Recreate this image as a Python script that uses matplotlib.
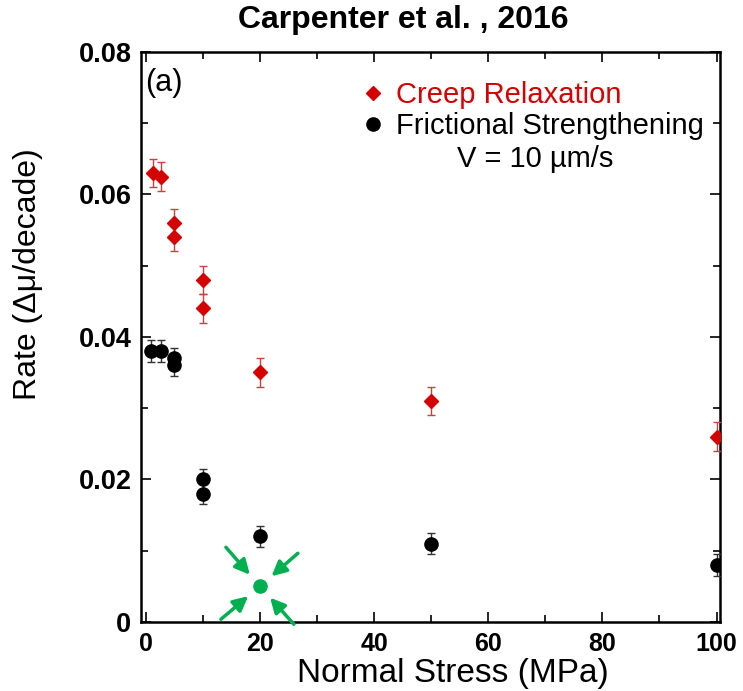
import matplotlib
matplotlib.use("Agg")
import matplotlib.pyplot as plt
from matplotlib.ticker import MultipleLocator

plt.rcParams['font.family'] = ['Liberation Sans', 'DejaVu Sans']

# creep relaxation rates
creep_stress = [1.2, 2.6, 5, 5, 10, 10, 20, 50, 100]
creep_rate = [0.063, 0.0625, 0.056, 0.054, 0.048, 0.044, 0.035, 0.031, 0.026]
creep_err = [0.002, 0.002, 0.002, 0.002, 0.002, 0.002, 0.002, 0.002, 0.002]

# frictional strengthening rates, V = 10 um/s
fs_stress = [1.0, 2.6, 5, 5, 10, 10, 20, 50, 100]
fs_rate = [0.038, 0.038, 0.037, 0.036, 0.020, 0.018, 0.012, 0.011, 0.008]
fs_err = [0.0015, 0.0015, 0.0015, 0.0015, 0.0015, 0.0015, 0.0015, 0.0015, 0.0015]

# highlighted point
hl_stress = 20
hl_rate = 0.005

red = '#d40000'
green = '#00b050'

fig = plt.figure(figsize=(7.43, 6.91), dpi=100)
ax = fig.add_axes([0.19, 0.10, 0.779, 0.825])

eb_fs = ax.errorbar(fs_stress, fs_rate, yerr=fs_err, fmt='o', color='black', ms=9.5,
                    ecolor='#333333', elinewidth=1, capsize=3, capthick=1, zorder=3)
eb_cr = ax.errorbar(creep_stress, creep_rate, yerr=creep_err, fmt='D', color=red, ms=7.5,
                    ecolor='#c84040', elinewidth=1, capsize=3, capthick=1, zorder=3)

ax.plot(hl_stress, hl_rate, 'o', color=green, ms=9.5, zorder=4)
# four arrows pointing at the highlighted point
for dx, dy in [(-34, 39), (38, 33), (-39, -33), (34, -38)]:
    ax.annotate('', xy=(hl_stress, hl_rate), xytext=(dx, dy), textcoords='offset pixels',
                arrowprops=dict(arrowstyle='-|>', color=green, lw=2.5, mutation_scale=22,
                                shrinkA=0, shrinkB=11))

ax.set_xlim(-0.8, 100.6)
ax.set_ylim(0, 0.08)
ax.xaxis.set_major_locator(MultipleLocator(20))
ax.xaxis.set_minor_locator(MultipleLocator(10))
ax.yaxis.set_major_locator(MultipleLocator(0.02))
ax.yaxis.set_minor_locator(MultipleLocator(0.01))
ax.set_yticks([0, 0.02, 0.04, 0.06, 0.08])
ax.set_yticklabels(['0', '0.02', '0.04', '0.06', '0.08'])

ax.tick_params(which='both', direction='in', top=True, right=True, width=1.2)
ax.tick_params(which='major', length=7, pad=7)
ax.tick_params(which='minor', length=5)
ax.tick_params(axis='x', labelsize=18)
ax.tick_params(axis='y', labelsize=19.5)
for lbl in ax.get_xticklabels() + ax.get_yticklabels():
    lbl.set_fontweight('bold')
for sp in ax.spines.values():
    sp.set_linewidth(1.8)

ax.set_xlabel('Normal Stress (MPa)', fontsize=24)
ax.xaxis.set_label_coords(0.539, -0.064)
ax.set_ylabel('Rate (Δμ/decade)', fontsize=23)
ax.yaxis.set_label_coords(-0.17, 0.61)

fig.text(403 / 743, 1 - 20 / 691, 'Carpenter et al. , 2016', fontsize=23, fontweight='bold',
         ha='center', va='center')

ax.text(0.007, 0.946, '(a)', transform=ax.transAxes, fontsize=22, va='center', ha='left')

leg = ax.legend([eb_cr[0], eb_fs[0]], ['Creep Relaxation', 'Frictional Strengthening'],
                loc='upper left', bbox_to_anchor=(0.34, 0.99), frameon=False, fontsize=21,
                handlelength=0.8, handletextpad=0.4, labelspacing=0.1, borderpad=0.3)
leg.get_texts()[0].set_color(red)
ax.text(0.68, 0.812, 'V = 10 µm/s', transform=ax.transAxes, fontsize=21, ha='center', va='center')

fig.savefig('out.png', dpi=100)
